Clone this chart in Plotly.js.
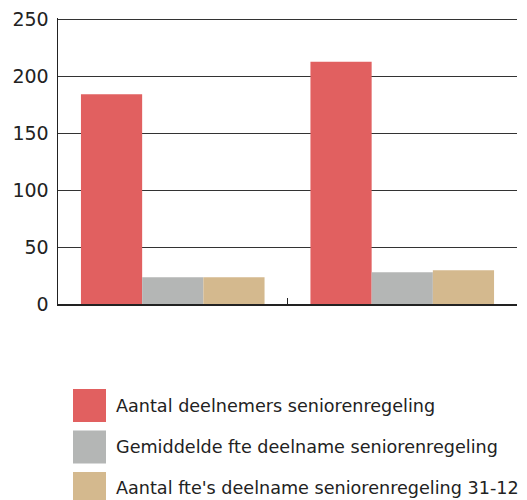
<!DOCTYPE html>
<html>
<head>
<meta charset="utf-8">
<script src="https://cdn.plot.ly/plotly-3.0.1.min.js"></script>
<style>html,body{margin:0;padding:0;background:#fff;}#chart{width:527px;height:500px;}</style>
</head>
<body>
<div id="chart"></div>
<script>
// Data
const categories = ["Groep 1", "Groep 2"];
const seriesNames = [
  "Aantal deelnemers seniorenregeling",
  "Gemiddelde fte deelname seniorenregeling",
  "Aantal fte's deelname seniorenregeling 31-12"
];
const deelnemers = [184, 212.5];
const gemiddeldeFte = [23.4, 27.8];
const fteEindJaar = [23.4, 29.6];
const yTicks = [0, 50, 100, 150, 200, 250];

const colors = ["#E16060", "#B4B6B5", "#D4B98E"];
const values = [deelnemers, gemiddeldeFte, fteEindJaar];

const W = 527, H = 500;
const M = {l: 58, r: 10, t: 18, b: 196};
const plotW = W - M.l - M.r, plotH = H - M.t - M.b;
const px = X => (X - M.l) / plotW;
const py = Y => (H - M.b - Y) / plotH;

const traces = values.map((v, i) => ({
  type: "bar",
  name: seriesNames[i],
  x: categories,
  y: v,
  marker: {color: colors[i], line: {width: 0}},
  showlegend: false,
  hoverinfo: "none"
}));

const shapes = [];
const annotations = [];
const sqX0 = 73, sqX1 = 106, sqTop0 = 389, step = 41.5, sq = 33;
seriesNames.forEach((name, i) => {
  const top = sqTop0 + i * step;
  shapes.push({
    type: "rect", xref: "paper", yref: "paper",
    x0: px(sqX0), x1: px(sqX1), y0: py(top + sq), y1: py(top),
    fillcolor: colors[i], line: {width: 0}, layer: "above"
  });
  annotations.push({
    xref: "paper", yref: "paper", x: px(114), y: py(top + sq / 2),
    xanchor: "left", yanchor: "middle", showarrow: false,
    text: name, font: {family: "DejaVu Sans", size: 17.6, color: "#222"}
  });
});

const layout = {
  width: W, height: H,
  margin: M,
  paper_bgcolor: "#fff", plot_bgcolor: "#fff",
  barmode: "group", bargap: 0.2, bargroupgap: 0,
  showlegend: false,
  font: {family: "DejaVu Sans", color: "#222"},
  xaxis: {
    type: "category",
    showticklabels: false,
    showline: true, linecolor: "#222", linewidth: 1.5,
    ticks: "inside", tickson: "boundaries", ticklen: 6, tickcolor: "#222", tickwidth: 1.5,
    showgrid: false, zeroline: false,
    fixedrange: true
  },
  yaxis: {
    range: [0, 251],
    tickvals: yTicks,
    ticktext: yTicks.map(String),
    showline: true, linecolor: "#222", linewidth: 1.5,
    ticks: "",
    showgrid: true, gridcolor: "#333", gridwidth: 1,
    zeroline: false,
    tickfont: {family: "DejaVu Sans", size: 19, color: "#222"},
    ticklabelstandoff: 4,
    fixedrange: true
  },
  shapes: shapes,
  annotations: annotations
};

Plotly.newPlot("chart", traces, layout, {displayModeBar: false, staticPlot: true});
</script>
</body>
</html>
